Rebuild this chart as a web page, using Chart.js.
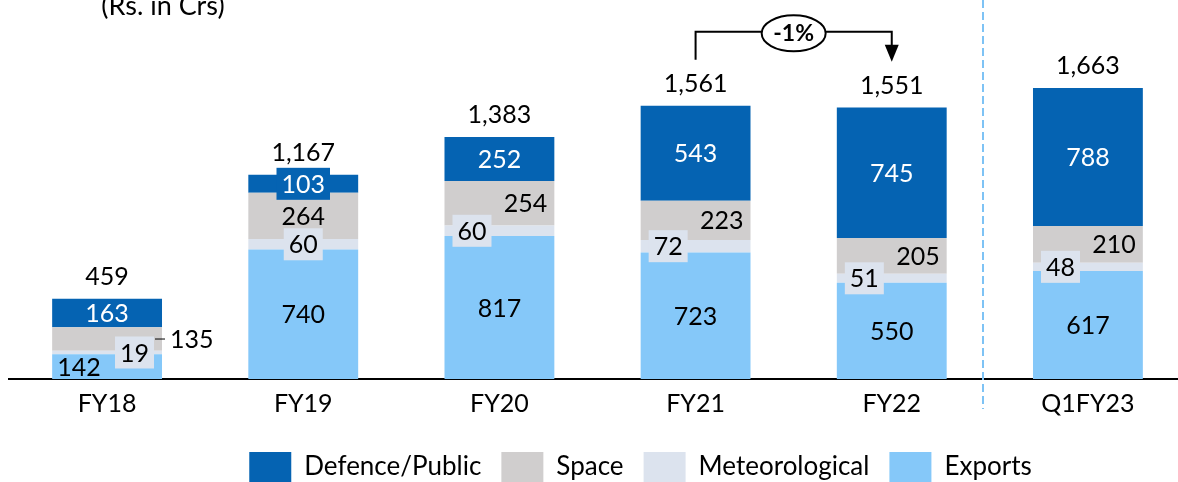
<!DOCTYPE html>
<html><head><meta charset="utf-8">
<script src="https://cdn.jsdelivr.net/npm/chart.js@4.4.1/dist/chart.umd.min.js"></script>
<style>
html,body{margin:0;padding:0;background:#fff;overflow:hidden;}
#wrap{position:absolute;left:0;top:0;width:1178px;height:482px;overflow:hidden;}
canvas{display:block;}
</style></head><body>
<div id="wrap"><canvas id="c" width="1190" height="492"></canvas></div>
<script>
// ---- data ----
const categories = ['FY18','FY19','FY20','FY21','FY22','Q1FY23'];
const exportsVals = [142, 740, 817, 723, 550, 617];
const meteoVals   = [19, 60, 60, 72, 51, 48];
const spaceVals   = [135, 264, 254, 223, 205, 210];
const defenceVals = [163, 103, 252, 543, 745, 788];
const seriesNames = ['Exports', 'Meteorological', 'Space', 'Defence/Public'];
const unitLabel = '(Rs. in Crs)';
const changeLabel = '-1%';

// ---- style ----
const C_DEF = '#0563B2', C_SPACE = '#D0CECE', C_MET = '#DCE3EE', C_EXP = '#85C8F9';
const FONT = 'Lato';
const labelStyle = [
  {exp:'left',   met:'right',  space:'outside', def:'center'},
  {exp:'center', met:'center', space:'center',  def:'box'},
  {exp:'center', met:'left',   space:'right',   def:'center'},
  {exp:'center', met:'left',   space:'right',   def:'center'},
  {exp:'center', met:'left',   space:'right',   def:'center'},
  {exp:'center', met:'left',   space:'right',   def:'center'}
];

function fmt(v){ return v.toLocaleString('en-US'); }

const labelPlugin = {
  id: 'segLabels',
  afterDatasetsDraw(chart) {
    const ctx = chart.ctx;
    const metas = [0,1,2,3].map(i => chart.getDatasetMeta(i));
    const vals = [exportsVals, meteoVals, spaceVals, defenceVals];
    ctx.save();
    ctx.font = '25px ' + FONT;
    ctx.textBaseline = 'middle';
    const boxLabel = (txt, cx, cy, bg, fg) => {
      const w = ctx.measureText(txt).width + 10, h = 32;
      ctx.fillStyle = bg;
      ctx.fillRect(cx - w/2, cy - h/2, w, h);
      ctx.fillStyle = fg; ctx.textAlign = 'center';
      ctx.fillText(txt, cx, cy + 1);
      return w;
    };
    categories.forEach((cat, i) => {
      const st = labelStyle[i];
      const ex = metas[0].data[i], me = metas[1].data[i], sp = metas[2].data[i], de = metas[3].data[i];
      const half = ex.width / 2, left = ex.x - half, right = ex.x + half;
      const cy = el => (el.y + el.base) / 2;
      // exports
      ctx.fillStyle = '#000';
      if (st.exp === 'left') { ctx.textAlign = 'left'; ctx.fillText(fmt(vals[0][i]), left + 5, cy(ex) + 1); }
      else { ctx.textAlign = 'center'; ctx.fillText(fmt(vals[0][i]), ex.x, cy(ex) + 1); }
      // meteorological (boxed)
      const mt = fmt(vals[1][i]);
      const mw = ctx.measureText(mt).width + 10;
      let mx = ex.x;
      if (st.met === 'left') mx = left + 8 + mw/2;
      else if (st.met === 'right') mx = right - 8 - mw/2;
      boxLabel(mt, mx, cy(me), C_MET, '#000');
      // space
      const stxt = fmt(vals[2][i]);
      ctx.fillStyle = '#000';
      if (st.space === 'right') { ctx.textAlign = 'right'; ctx.fillText(stxt, right - 7, cy(sp) + 1); }
      else if (st.space === 'center') { ctx.textAlign = 'center'; ctx.fillText(stxt, ex.x, cy(sp) + 1); }
      else {
        ctx.strokeStyle = '#000'; ctx.lineWidth = 1;
        ctx.beginPath(); ctx.moveTo(right - 7, cy(sp)); ctx.lineTo(right + 3, cy(sp)); ctx.stroke();
        ctx.textAlign = 'left'; ctx.fillText(stxt, right + 8, cy(sp) + 1);
      }
      // defence
      const dt = fmt(vals[3][i]);
      if (st.def === 'box') boxLabel(dt, ex.x, cy(de), C_DEF, '#fff');
      else { ctx.fillStyle = '#fff'; ctx.textAlign = 'center'; ctx.fillText(dt, ex.x, cy(de) + 1); }
      // total
      const total = vals.reduce((s, a) => s + a[i], 0);
      ctx.fillStyle = '#000'; ctx.textAlign = 'center';
      ctx.fillText(fmt(total), ex.x, de.y - 22);
    });

    // unit label
    ctx.font = '27px ' + FONT;
    ctx.textAlign = 'center'; ctx.textBaseline = 'alphabetic';
    ctx.fillText(unitLabel, 163, 15);

    // change annotation between FY21 and FY22
    const a = metas[3].data[3], b = metas[3].data[4];
    const topY = Math.min(a.y, b.y);
    const lineY = topY - 74, endY = topY - 46;
    ctx.strokeStyle = '#000'; ctx.lineWidth = 2;
    ctx.beginPath();
    ctx.moveTo(a.x, endY); ctx.lineTo(a.x, lineY); ctx.lineTo(b.x, lineY); ctx.lineTo(b.x, endY - 14);
    ctx.stroke();
    ctx.fillStyle = '#000';
    ctx.beginPath(); ctx.moveTo(b.x - 7, endY - 15); ctx.lineTo(b.x + 7, endY - 15); ctx.lineTo(b.x, endY + 2); ctx.closePath(); ctx.fill();
    const mxc = (a.x + b.x) / 2;
    ctx.beginPath(); ctx.ellipse(mxc, lineY + 1.5, 32, 18, 0, 0, Math.PI * 2);
    ctx.fillStyle = '#fff'; ctx.fill(); ctx.stroke();
    ctx.fillStyle = '#000'; ctx.font = 'bold 23px ' + FONT; ctx.textBaseline = 'middle';
    ctx.fillText(changeLabel, mxc, lineY + 2);

    // dashed separator before Q1FY23
    const xs = chart.scales.x;
    const sx = Math.round(xs.getPixelForValue(4.5) - 7);
    ctx.strokeStyle = '#7EC3F5'; ctx.lineWidth = 2; ctx.setLineDash([8, 4]);
    ctx.beginPath(); ctx.moveTo(sx, 0); ctx.lineTo(sx, 409); ctx.stroke();
    ctx.restore();
  }
};

const legendShift = {
  id: 'legendShift',
  afterLayout(chart) {
    const lg = chart.legend;
    if (lg) { lg.left += 43; lg.right += 43; }
  }
};

new Chart(document.getElementById('c'), {
  type: 'bar',
  data: {
    labels: categories,
    datasets: [
      {label: seriesNames[0], data: exportsVals, backgroundColor: C_EXP},
      {label: seriesNames[1], data: meteoVals, backgroundColor: C_MET},
      {label: seriesNames[2], data: spaceVals, backgroundColor: C_SPACE},
      {label: seriesNames[3], data: defenceVals, backgroundColor: C_DEF}
    ]
  },
  options: {
    responsive: false,
    animation: false,
    layout: {padding: {left: 9, right: 4, top: 0, bottom: 0}},
    datasets: {bar: {categoryPercentage: 1, barPercentage: 0.56, borderWidth: 0}},
    scales: {
      x: {
        stacked: true,
        grid: {display: false, drawTicks: false},
        border: {display: true, color: '#000', width: 2},
        ticks: {color: '#000', font: {family: FONT, size: 25}, padding: 10},
        afterFit(scale) { scale.height = 53; }
      },
      y: {stacked: true, display: false, min: 0, max: 2166}
    },
    plugins: {
      legend: {
        position: 'bottom', reverse: true,
        labels: {boxWidth: 42, boxHeight: 30, padding: 20, color: '#000', font: {family: FONT, size: 26}}
      },
      tooltip: {enabled: false}
    }
  },
  plugins: [labelPlugin, legendShift]
});
</script>
</body></html>
